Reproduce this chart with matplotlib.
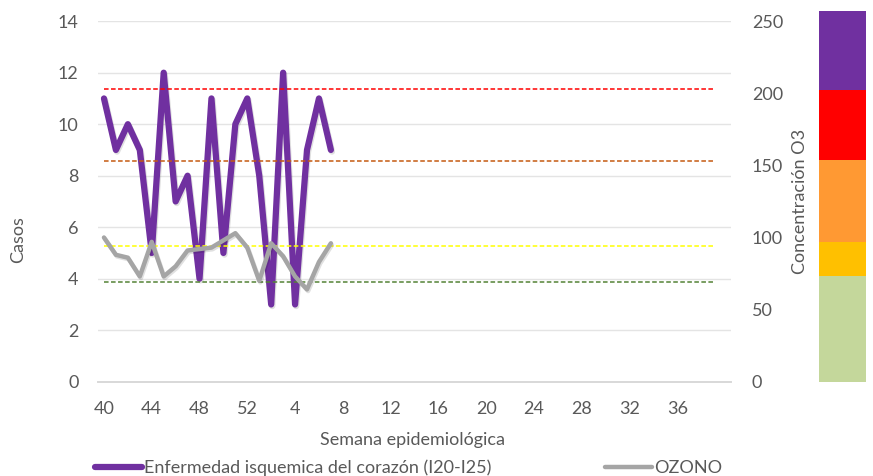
"""
Casos semanales de enfermedad isquémica vs concentración de ozono
"""
import matplotlib
matplotlib.use('Agg')
import matplotlib.pyplot as plt
import matplotlib.patheffects as pe
from matplotlib.lines import Line2D

# semanas epidemiologicas (categorias del eje x)
weeks = list(range(40, 53)) + list(range(1, 41))

# casos de enfermedad isquemica del corazon (I20-I25)
casos = [11, 9, 10, 9, 5, 12, 7, 8, 4, 11, 5, 10, 11, 8, 3, 12, 3, 9, 11, 9]

# concentracion de ozono (eje derecho)
ozono = [100, 88, 86, 73, 97, 73, 80, 91, 92, 93, 98, 103, 93, 70, 96, 87, 73, 64, 83, 96]

# umbrales (lineas punteadas, eje derecho)
umbrales = [203, 153, 94, 69]
umbral_colors = ['#FF0000', '#C55A11', '#FFFF00', '#548235']

# barra de colores de calidad del aire
band_edges = [0, 73, 97, 154, 202, 257]
band_colors = ['#C4D79B', '#FFC000', '#FF9933', '#FF0000', '#7030A0']

TXT = '#595959'
FS = 13
plt.rcParams['font.family'] = ['Lato', 'DejaVu Sans']
plt.rcParams['font.size'] = FS

fig = plt.figure(figsize=(8.73, 4.76), dpi=100)
ax = fig.add_axes([98/873, 94.3/476, 633/873, 360.5/476])
ax2 = ax.twinx()

shadow = [pe.SimpleLineShadow(offset=(0.8, -1.2), shadow_color='black', alpha=0.12), pe.Normal()]

x_casos = list(range(len(casos)))
ax.plot(x_casos, casos, color='#7030A0', lw=4.5, solid_joinstyle='round',
        solid_capstyle='round', path_effects=shadow, zorder=3)

for val, col in zip(umbrales, umbral_colors):
    ax2.hlines(val, 0, len(weeks) - 2, colors=col, linestyles=(0, (3, 1.6)), lw=1.1, zorder=2)

x_oz = list(range(len(ozono)))
ax2.plot(x_oz, ozono, color='#A5A5A5', lw=3.2, solid_joinstyle='round',
         solid_capstyle='round', path_effects=shadow, zorder=3)

ax.set_xlim(-0.5, len(weeks) - 0.5)
ax.set_ylim(0, 14)
ax2.set_ylim(0, 250)
ax.set_yticks(range(0, 15, 2))
ax2.set_yticks(range(0, 251, 50))
ticks = list(range(0, len(weeks) - 4, 4))
ax.set_xticks(ticks)
ax.set_xticklabels([str(weeks[i]) for i in ticks])

ax.grid(axis='y', color='#E4E4E4', lw=1)
ax.set_axisbelow(True)
for a in (ax, ax2):
    for s in ('top', 'left', 'right'):
        a.spines[s].set_visible(False)
    a.spines['bottom'].set_color('#D9D9D9')
    a.spines['bottom'].set_linewidth(1.3)
ax.tick_params(axis='both', length=0, colors=TXT, labelsize=FS)
ax.tick_params(axis='y', pad=14)
ax.tick_params(axis='x', pad=14)
ax2.tick_params(axis='y', length=0, colors=TXT, labelsize=FS, pad=15)

ax.set_ylabel('Casos', color=TXT, fontsize=FS)
ax.yaxis.set_label_coords((26 - 98)/633, 0.393)
ax2.set_ylabel('Concentración O3', color=TXT, fontsize=FS)
ax2.yaxis.set_label_coords((792 - 98)/633, 0.5)
fig.text(412/873, 36/476, 'Semana epidemiológica', color=TXT, fontsize=FS,
         ha='center', va='center')

# barra de colores
cax = fig.add_axes([819/873, 94.3/476, 47/873, 370.7/476])
for i, col in enumerate(band_colors):
    cax.bar(0, band_edges[i+1] - band_edges[i], bottom=band_edges[i], width=1,
            color=col, align='edge')
cax.set_xlim(0, 1)
cax.set_ylim(0, band_edges[-1])
cax.axis('off')

handles = [Line2D([], [], color='#7030A0', lw=4.5, solid_capstyle='round'),
           Line2D([], [], color='#A5A5A5', lw=3.2, solid_capstyle='round')]
fig.legend(handles, ['Enfermedad isquemica del corazón (I20-I25)', 'OZONO'],
           loc='center left', bbox_to_anchor=(95/873, 8/476), ncol=2, frameon=False,
           handlelength=2.6, handletextpad=0.12, columnspacing=6.3, borderpad=0,
           borderaxespad=0, fontsize=FS, labelcolor=TXT)

fig.savefig('out.png', dpi=100)
